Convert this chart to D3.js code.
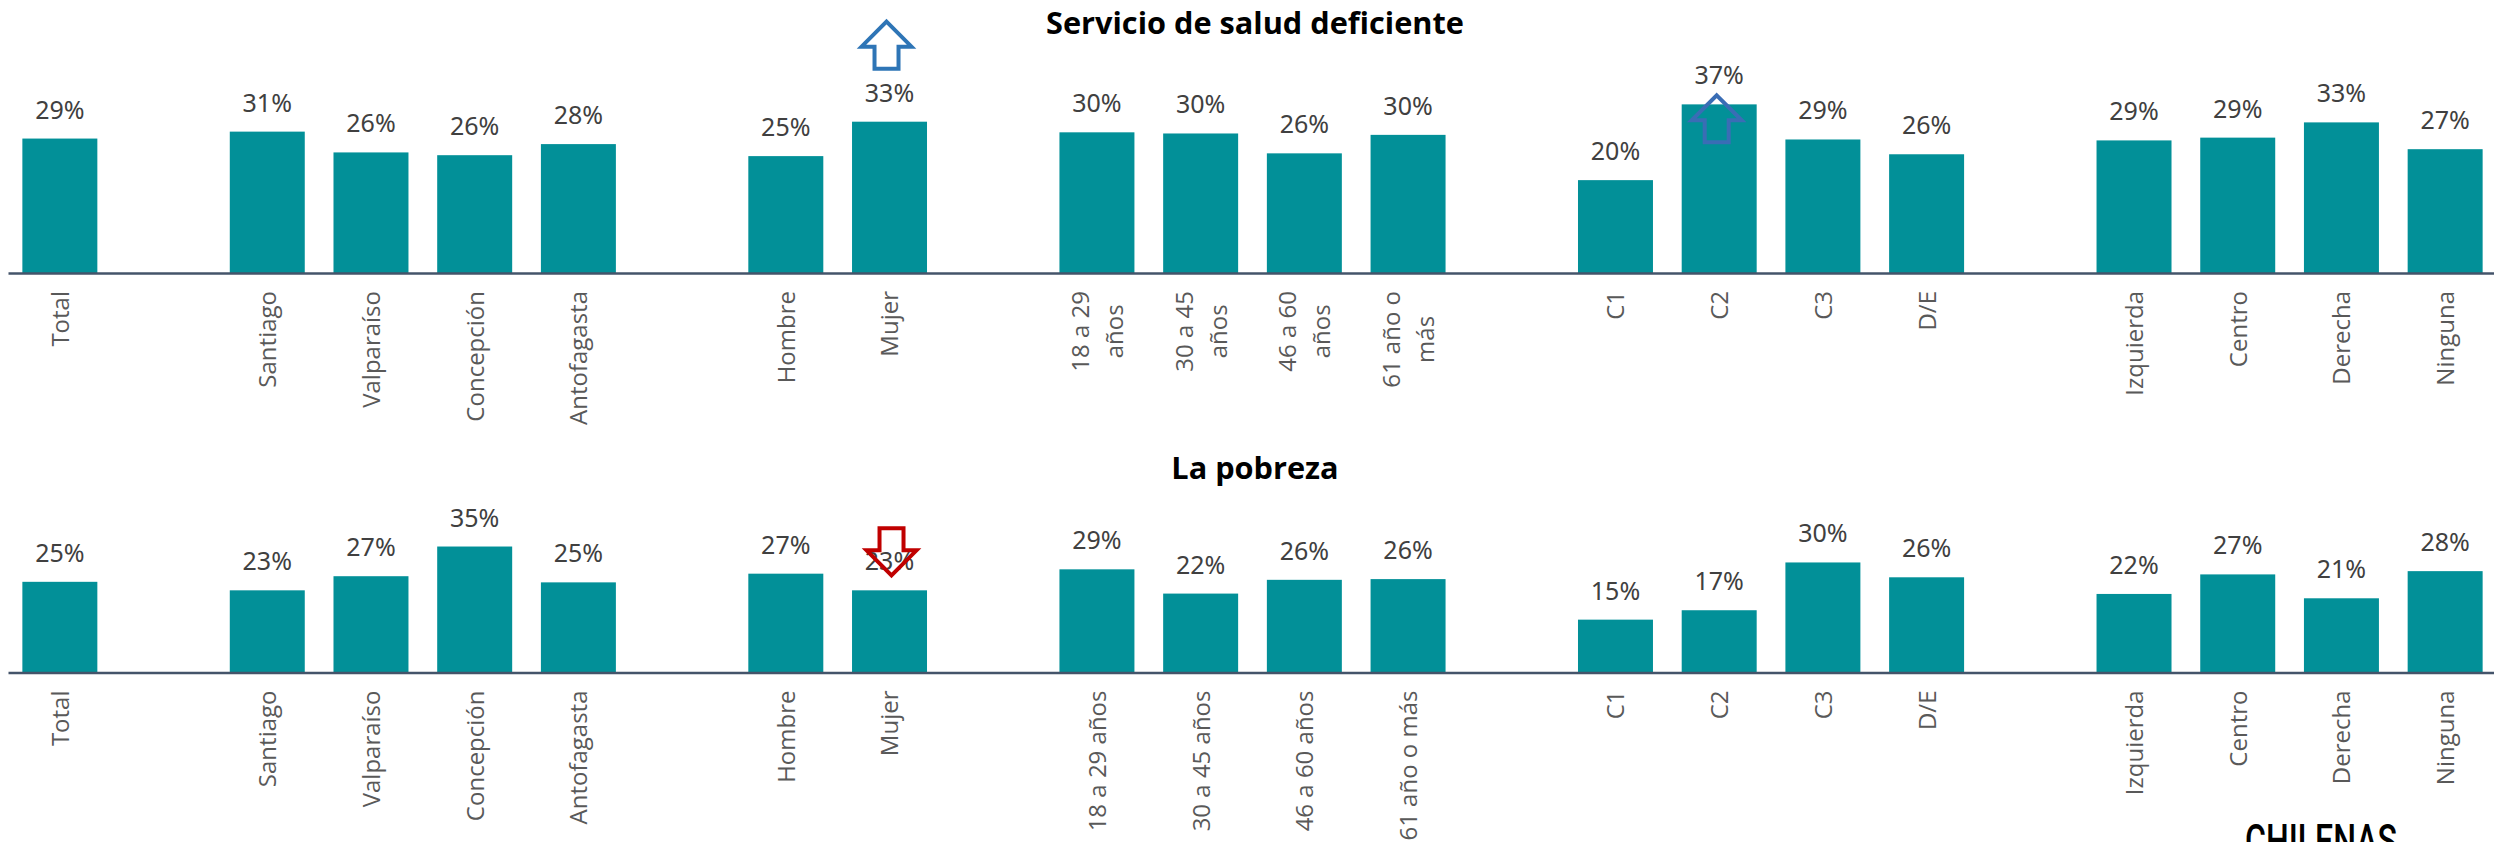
<!DOCTYPE html>
<html><head><meta charset="utf-8">
<script src="https://cdn.jsdelivr.net/npm/d3@7/dist/d3.min.js"></script>
<style>html,body{margin:0;padding:0;background:#fff;overflow:hidden}svg{display:block}</style>
</head><body><svg id="c" width="2494" height="842"></svg>
<script>
const labelsSalud = ["Total",null,"Santiago","Valparaíso","Concepción","Antofagasta",null,"Hombre","Mujer",null,"18 a 29\naños","30 a 45\naños","46 a 60\naños","61 año o\nmás",null,"C1","C2","C3","D/E",null,"Izquierda","Centro","Derecha","Ninguna"];
const labelsPobreza = ["Total",null,"Santiago","Valparaíso","Concepción","Antofagasta",null,"Hombre","Mujer",null,"18 a 29 años","30 a 45 años","46 a 60 años","61 año o más",null,"C1","C2","C3","D/E",null,"Izquierda","Centro","Derecha","Ninguna"];
const valuesSalud = [29.1,null,30.6,26.1,25.5,27.9,null,25.3,32.75,null,30.45,30.2,25.9,29.9,null,20.1,36.5,28.9,25.7,null,28.7,29.3,32.6,26.8];
const valuesPobreza = [25.05,null,22.7,26.6,34.8,24.9,null,27.3,22.7,null,28.5,21.8,25.6,25.8,null,14.6,17.2,30.4,26.3,null,21.7,27.1,20.5,28.0];
const titleSalud = "Servicio de salud deficiente", titlePobreza = "La pobreza", footer = "CHILENAS";

const svg = d3.select("#c");
const x = d3.scaleBand().domain(d3.range(labelsSalud.length)).range([8,2497]).paddingInner(0.277).paddingOuter(0.1385);
const panels = [
  {title:titleSalud, titleY:33.5, labels:labelsSalud, values:valuesSalud, base:273, top:88.2,
   arrows:[{i:8,dir:"up",color:"#2E75B6",dx:-3,tip:-100},{i:16,dir:"up",color:"#3A6DB5",dx:-2.5,tip:-9}]},
  {title:titlePobreza, titleY:478.5, labels:labelsPobreza, values:valuesPobreza, base:672.5, top:527.7,
   arrows:[{i:8,dir:"down",color:"#C00000",dx:2,tip:-15}]}
];
const arrowLine = d3.line();
function arrowPts(dir){
  const p=[[0,0],[25,25],[12,25],[12,47],[-12,47],[-12,25],[-25,25]];
  return dir==="up"?p:p.map(([a,b])=>[a,-b]);
}
panels.forEach(P=>{
  const g = svg.append("g");
  const y = d3.scaleLinear().domain([0,40]).range([P.base,P.top]);
  const idx = d3.range(P.values.length).filter(i=>P.values[i]!==null);

  g.selectAll("rect.bar").data(idx).join("rect").attr("class","bar")
    .attr("x",i=>x(i)).attr("width",x.bandwidth())
    .attr("y",i=>y(P.values[i])).attr("height",i=>P.base-y(P.values[i]))
    .attr("fill","#029098");

  const ax = g.append("g").attr("transform",`translate(0,${P.base})`)
    .call(d3.axisBottom(x).tickSize(0).tickValues(idx).tickFormat(""));
  ax.select(".domain").attr("stroke","#44546A").attr("stroke-width",2.5);
  ax.selectAll(".tick").each(function(i){
    const t=d3.select(this); t.select("text").remove();
    const lines=P.labels[i].split("\n");
    const lh=34;
    const txt=lines.map((s,k)=>t.append("text").text(s)
      .attr("font-family","'Open Sans'").attr("font-size",24).attr("fill","#595959")
      .attr("dy","0.35em"));
    const w=d3.max(txt,n=>n.node().getComputedTextLength());
    txt.forEach((n,k)=>{
      const off=(k-(lines.length-1)/2)*lh+0.5;
      if(lines.length>1) n.attr("text-anchor","middle").attr("transform",`translate(${off},${18+w/2}) rotate(-90)`);
      else n.attr("text-anchor","end").attr("transform",`translate(${off},18) rotate(-90)`);
    });
  });

  g.selectAll("text.val").data(idx).join("text").attr("class","val")
    .attr("x",i=>x(i)+x.bandwidth()/2).attr("y",i=>y(P.values[i])-20)
    .attr("text-anchor","middle").attr("font-family","'Noto Sans'").attr("font-size",25)
    .attr("fill","#404040").text(i=>Math.round(P.values[i])+"%");

  g.append("text").attr("x",1255).attr("y",P.titleY).attr("text-anchor","middle")
    .attr("font-family","'Open Sans'").attr("font-weight",700).attr("font-size",30.7).attr("fill","#000").text(P.title);

  P.arrows.forEach(a=>{
    const cx=x(a.i)+x.bandwidth()/2+a.dx;
    const tipY=y(P.values[a.i])+a.tip;
    g.append("path").attr("d",arrowLine(arrowPts(a.dir))+"Z")
      .attr("transform",`translate(${cx},${tipY})`)
      .attr("fill","none").attr("stroke",a.color).attr("stroke-width",4);
  });
});
svg.append("text").attr("x",2245).attr("y",856).attr("textLength",152).attr("lengthAdjust","spacingAndGlyphs")
  .attr("font-family","Roboto").attr("font-weight",500).attr("font-size",44).attr("fill","#000").text(footer);
</script></body></html>
